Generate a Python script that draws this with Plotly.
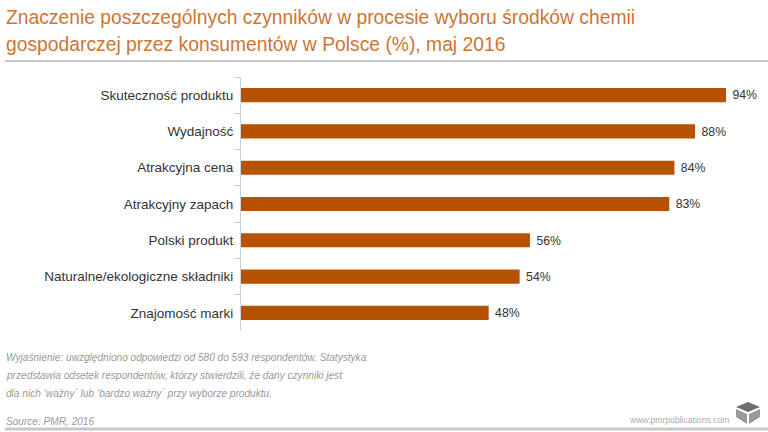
# Znaczenie czynników przy wyborze środków chemii gospodarczej - PMR 2016

import plotly.graph_objects as go

# Dane
categories = ['Skuteczność produktu', 'Wydajność', 'Atrakcyjna cena', 'Atrakcyjny zapach',
              'Polski produkt', 'Naturalne/ekologiczne składniki', 'Znajomość marki']
values = [94, 88, 84, 83, 56, 54, 48]
value_labels = [f'\u00a0{v}%' for v in values]

title_lines = ['Znaczenie poszczególnych czynników w procesie wyboru środków chemii',
               'gospodarczej przez konsumentów w Polsce (%), maj 2016']
note_lines = ['Wyjaśnienie: uwzględniono odpowiedzi od 580 do 593 respondentów. Statystyka',
              'przedstawia odsetek respondentów, którzy stwierdzili, że dany czynniki jest',
              'dla nich ‘ważny´ lub ‘bardzo ważny´ przy wyborze produktu.']
source = 'Source: PMR, 2016'
site = 'www.pmrpublications.com'

W, H = 768, 432
FONT = 'Liberation Sans, Helvetica, Arial, sans-serif'
BAR = '#B65300'
ORANGE = '#CD7533'


def px(x):
    return x / W


def py(y):
    return 1 - y / H


fig = go.Figure()
fig.add_trace(go.Bar(
    x=values, y=categories, orientation='h',
    marker_color=BAR, marker_line_width=0,
    text=value_labels, textposition='outside', cliponaxis=False,
    textfont=dict(size=13, color='#333333', family=FONT),
    hoverinfo='skip'
))

fig.update_layout(
    width=W, height=H,
    margin=dict(l=0, r=0, t=0, b=0),
    paper_bgcolor='white', plot_bgcolor='white',
    showlegend=False,
    bargap=0.61,
    font=dict(family=FONT),
    xaxis=dict(domain=[px(241), px(757)], range=[0, 100], visible=False, fixedrange=True),
    yaxis=dict(domain=[py(331), py(77)], autorange='reversed', automargin=False,
               showline=True, linecolor='#C9D3DE', linewidth=1, fixedrange=True,
               ticks='outside', tickson='boundaries', ticklen=6, tickcolor='#C9D3DE',
               tickfont=dict(size=13.5, color='#333333'), ticklabelstandoff=4,
               showgrid=False, zeroline=False),
)

# tytuł
for i, line in enumerate(title_lines):
    fig.add_annotation(x=px(4), y=py(18 + i * 27), xref='paper', yref='paper',
                       xanchor='left', yanchor='middle', showarrow=False, text=line,
                       font=dict(size=19.3, color=ORANGE, family=FONT))

# wyjaśnienie i źródło
for i, line in enumerate(note_lines):
    fig.add_annotation(x=px(4), y=py(357 + i * 18), xref='paper', yref='paper',
                       xanchor='left', yanchor='middle', showarrow=False,
                       text=f'<i>{line}</i>', font=dict(size=10.1, color='#999999', family=FONT))
fig.add_annotation(x=px(4), y=py(421), xref='paper', yref='paper',
                   xanchor='left', yanchor='middle', showarrow=False,
                   text=f'<i>{source}</i>', font=dict(size=10.1, color='#999999', family=FONT))
fig.add_annotation(x=px(731), y=py(420), xref='paper', yref='paper',
                   xanchor='right', yanchor='middle', showarrow=False,
                   text=site, font=dict(size=8.6, color='#AAAAAA', family=FONT))

# linie poziome
fig.add_shape(type='line', xref='paper', yref='paper', x0=px(5), x1=1, y0=py(61), y1=py(61),
              line=dict(color='#C8C8C8', width=2))
fig.add_shape(type='line', xref='paper', yref='paper', x0=px(5), x1=1, y0=py(429), y1=py(429),
              line=dict(color='#C8C8C8', width=3))

# logo (sześcian)
cx, cy = 748, 413
top = f'M {px(cx-12)} {py(cy-6)} L {px(cx)} {py(cy-11)} L {px(cx+12)} {py(cy-6)} L {px(cx)} {py(cy-1)} Z'
left = f'M {px(cx-12)} {py(cy-4)} L {px(cx-1)} {py(cy+1)} L {px(cx-1)} {py(cy+11)} L {px(cx-12)} {py(cy+4)} Z'
right = f'M {px(cx+12)} {py(cy-4)} L {px(cx+1)} {py(cy+1)} L {px(cx+1)} {py(cy+11)} L {px(cx+12)} {py(cy+4)} Z'
fig.add_shape(type='path', xref='paper', yref='paper', path=top, fillcolor='#6E6E6E', line_width=0)
fig.add_shape(type='path', xref='paper', yref='paper', path=left, fillcolor='#9A9A9A', line_width=0)
fig.add_shape(type='path', xref='paper', yref='paper', path=right, fillcolor='#9A9A9A', line_width=0)

# bez marginesu strony, żeby wykres zajął całe okno
fig.write_html('out.html', config={'displayModeBar': False},
               post_script="document.body.style.margin='0';")
